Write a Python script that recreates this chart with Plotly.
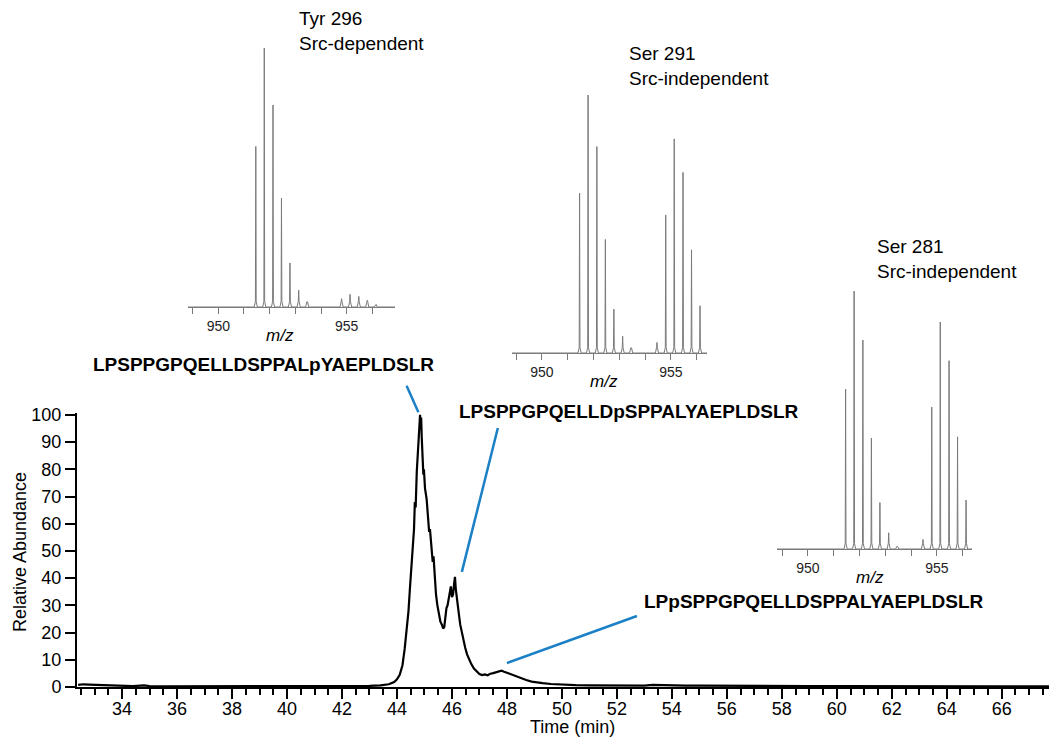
import plotly.graph_objects as go

# ---------------- data ----------------
time_min = [32.4, 32.6, 32.8, 33.0, 33.2, 33.4, 33.6, 33.8, 34.0, 34.4, 34.8, 35.0, 35.5, 36.0, 37.0,
            38.0, 39.0, 40.0, 40.8, 41.0, 42.0, 42.5, 43.0, 43.4, 43.7, 43.9, 44.0, 44.1, 44.2, 44.28,
            44.35, 44.42, 44.47, 44.53, 44.58, 44.62, 44.65, 44.68, 44.72, 44.76, 44.79, 44.82, 44.84,
            44.86, 44.88, 44.9, 44.92, 44.94, 44.96, 44.98, 45.02, 45.08, 45.12, 45.17, 45.2, 45.25,
            45.3, 45.33, 45.37, 45.42, 45.47, 45.52, 45.58, 45.63, 45.68, 45.72, 45.76, 45.8, 45.84,
            45.88, 45.92, 45.96, 46.0, 46.04, 46.08, 46.11, 46.14, 46.17, 46.2, 46.25, 46.3, 46.36,
            46.42, 46.48, 46.55, 46.62, 46.7, 46.8, 46.9, 47.0, 47.1, 47.2, 47.3, 47.4, 47.5, 47.6,
            47.7, 47.8, 47.9, 48.0, 48.1, 48.2, 48.35, 48.5, 48.7, 48.9, 49.1, 49.3, 49.6, 50.0, 50.5,
            51.0, 52.0, 52.5, 53.0, 53.3, 53.6, 54.0, 54.5, 55.0, 56.0, 57.0, 58.0, 59.0, 60.0, 62.0,
            64.0, 66.0, 67.8]
abundance = [0.8, 1.0, 0.9, 0.8, 0.7, 0.6, 0.5, 0.4, 0.3, 0.3, 0.6, 0.3, 0.2, 0.2, 0.2,
             0.2, 0.2, 0.2, 0.4, 0.2, 0.3, 0.3, 0.4, 0.6, 1.0, 1.8, 2.8, 4.5, 8, 14,
             20, 28, 36, 44, 51, 58, 68, 66, 79, 88, 94, 97, 100,
             96, 99, 92, 86, 88, 78, 80, 73, 69, 64, 57, 58, 50,
             46, 48, 40, 34, 30, 27, 24, 23, 21.5, 22, 26, 29, 30,
             33, 35, 37, 33, 34, 38, 40.5, 36, 33, 32, 27, 23, 20,
             17, 14.5, 12, 10, 8.5, 6.8, 5.6, 4.8, 4.4, 4.6, 4.3, 4.9, 5.1, 5.4,
             5.7, 6.0, 5.6, 5.2, 4.8, 4.5, 3.9, 3.2, 2.6, 2.0, 1.6, 1.4, 1.1, 0.8, 0.7,
             0.6, 0.5, 0.4, 0.5, 0.8, 0.7, 0.6, 0.5, 0.5, 0.4, 0.4, 0.4, 0.3, 0.3, 0.2,
             0.2, 0.2, 0.2]

y_ticks = [0, 10, 20, 30, 40, 50, 60, 70, 80, 90, 100]

# isotope clusters (m/z) and relative intensities for the three MS insets
mz_a = [951.46, 951.79, 952.13, 952.46, 952.79, 953.13, 953.46]
mz_b = [954.46, 954.80, 955.13, 955.47, 955.80, 956.13]

tyr296_mz = mz_a + mz_b[1:]
tyr296_int = [62, 100, 78, 42, 17, 6.5, 2, 3.2, 4.9, 4.1, 2.6, 1.0]

ser291_mz = mz_a + mz_b
ser291_int = [62, 100, 80, 44, 17, 6.5, 2, 4.1, 53.5, 83, 70, 40, 18.3]

ser281_mz = mz_a + mz_b
ser281_int = [62, 100, 81, 43, 18, 6.3, 1, 3.7, 55, 88, 73, 43.5, 19]

mz_ticks = [950, 955]

peptides = ["LPSPPGPQELLDSPPALpYAEPLDSLR",
            "LPSPPGPQELLDpSPPALYAEPLDSLR",
            "LPpSPPGPQELLDSPPALYAEPLDSLR"]
inset_titles = ["Tyr 296<br>Src-dependent",
                "Ser 291<br>Src-independent",
                "Ser 281<br>Src-independent"]

# ---------------- figure ----------------
W, H = 1049, 738
FONT = "Liberation Sans, Arial, Helvetica, sans-serif"
BLUE = "#1b80c6"
GREY = "#7a7a7a"

X_RANGE = [32.36, 67.72]
Y_RANGE = [0, 100.7]
PLOT_L, PLOT_R, PLOT_B, PLOT_T = 77, 1049, 687, 413


def px_x(p):
    return p / W


def px_y(p):
    return (H - p) / H


def main_to_paper(t, v):
    """Map main-axis data coordinates to paper coordinates (same linear scale as the axes)."""
    xp = PLOT_L + (t - X_RANGE[0]) / (X_RANGE[1] - X_RANGE[0]) * (PLOT_R - PLOT_L)
    yp = PLOT_B - (v - Y_RANGE[0]) / (Y_RANGE[1] - Y_RANGE[0]) * (PLOT_B - PLOT_T)
    return px_x(xp), px_y(yp)


fig = go.Figure()

fig.add_trace(go.Scatter(x=time_min, y=abundance, mode="lines",
                         line=dict(color="black", width=2.2),
                         xaxis="x", yaxis="y", showlegend=False, hoverinfo="skip"))


def spectrum_path(mz, inten, lo, hi):
    xs, ys = [lo], [0]
    for m, h in zip(mz, inten):
        b = min(h, 2.2)
        xs += [m - 0.06, m - 0.015, m, m + 0.015, m + 0.06]
        ys += [0, b, h, b, 0]
    xs.append(hi)
    ys.append(0)
    return xs, ys


insets = [
    dict(mz=tyr296_mz, it=tyr296_int, rng=[948.82, 956.88], x0=188, x1=395, base=307, top=48,
         title_px=(297, 31)),
    dict(mz=ser291_mz, it=ser291_int, rng=[948.84, 956.40], x0=512, x1=707, base=353, top=95,
         title_px=(627, 66)),
    dict(mz=ser281_mz, it=ser281_int, rng=[948.80, 956.36], x0=777, x1=972, base=549, top=291,
         title_px=(875, 258.5)),
]

layout = dict(
    width=W, height=H,
    margin=dict(l=0, r=0, t=0, b=0),
    paper_bgcolor="white", plot_bgcolor="rgba(0,0,0,0)",
    font=dict(family=FONT, color="black"),
    showlegend=False,
    xaxis=dict(domain=[px_x(PLOT_L), px_x(PLOT_R)], range=X_RANGE, anchor="y",
               showline=True, linecolor="black", linewidth=2,
               ticks="outside", ticklen=10, tickwidth=2, tickcolor="black",
               tick0=0, dtick=2, tickfont=dict(size=18, family=FONT), ticklabelstandoff=-6,
               minor=dict(dtick=0.5, tick0=0, ticks="outside", ticklen=6, tickwidth=2,
                          tickcolor="black", showgrid=False),
               showgrid=False, zeroline=False, automargin=False),
    yaxis=dict(domain=[px_y(PLOT_B), px_y(PLOT_T)], range=Y_RANGE, anchor="x",
               showline=True, linecolor="black", linewidth=2,
               ticks="outside", ticklen=10, tickwidth=2, tickcolor="black",
               tickvals=y_ticks, tickfont=dict(size=18, family=FONT),
               showgrid=False, zeroline=False, automargin=False),
)

annotations = []
shapes = []
for i, ins in enumerate(insets, start=2):
    xs, ys = spectrum_path(ins["mz"], ins["it"], ins["rng"][0], ins["rng"][1])
    fig.add_trace(go.Scatter(x=xs, y=ys, mode="lines", line=dict(color=GREY, width=1),
                             xaxis=f"x{i}", yaxis=f"y{i}", showlegend=False, hoverinfo="skip"))
    layout[f"xaxis{i}"] = dict(domain=[px_x(ins["x0"]), px_x(ins["x1"])], range=ins["rng"],
                               anchor=f"y{i}", showline=True, linecolor=GREY, linewidth=1,
                               ticks="outside", ticklen=6, tickwidth=1, tickcolor=GREY,
                               tickvals=mz_ticks, tickfont=dict(size=14, family=FONT, color="#222"),
                               minor=dict(dtick=1, tick0=0, ticks="outside", ticklen=6,
                                          tickwidth=1, tickcolor=GREY, showgrid=False),
                               showgrid=False, zeroline=False, automargin=False)
    layout[f"yaxis{i}"] = dict(domain=[px_y(ins["base"]), px_y(ins["top"])], range=[0, 100],
                               anchor=f"x{i}", visible=False, automargin=False)
    # m/z label: centred near m/z 952.4, below the inset axis
    lo, hi = ins["rng"]
    mz_px = ins["x0"] + (952.4 - lo) / (hi - lo) * (ins["x1"] - ins["x0"])
    annotations.append(dict(text="<i>m/z</i>", x=px_x(mz_px), y=px_y(ins["base"] + 28),
                            xref="paper", yref="paper", showarrow=False,
                            xanchor="center", yanchor="middle",
                            font=dict(size=17, family=FONT, color="black")))
    tx, ty = ins["title_px"]
    annotations.append(dict(text=inset_titles[i - 2], x=px_x(tx), y=px_y(ty),
                            xref="paper", yref="paper", showarrow=False, align="left",
                            xanchor="left", yanchor="middle",
                            font=dict(size=19, family=FONT, color="black")))

# peptide labels on the chromatogram (centre positions in main-axis data units)
label_pos = [(39.15, 118.4), (52.45, 101.1), (59.18, 31.25)]
for txt, (lx, ly) in zip(peptides, label_pos):
    px, py = main_to_paper(lx, ly)
    annotations.append(dict(text=f"<b>{txt}</b>", x=px, y=py, xref="paper", yref="paper",
                            showarrow=False, xanchor="center", yanchor="middle",
                            font=dict(size=19, family=FONT, color="black")))

# leader lines (tail -> head, in main-axis data units)
leaders = [((44.35, 110.7), (44.78, 101.0)),
           ((47.67, 95.2), (46.36, 42.3)),
           ((52.73, 26.1), (48.00, 8.8))]
for (tx, ty), (hx, hy) in leaders:
    ptx, pty = main_to_paper(tx, ty)
    phx, phy = main_to_paper(hx, hy)
    shapes.append(dict(type="line", xref="paper", yref="paper", x0=ptx, y0=pty, x1=phx, y1=phy,
                       line=dict(color=BLUE, width=2.5)))

# axis titles
annotations.append(dict(text="Time (min)", x=px_x(572), y=px_y(727), xref="paper", yref="paper",
                        xanchor="center", yanchor="middle", showarrow=False, borderpad=0,
                        font=dict(size=18, family=FONT, color="black")))
annotations.append(dict(text="Relative Abundance", x=px_x(20), y=px_y(552), xref="paper", yref="paper",
                        showarrow=False, textangle=-90, xanchor="center", yanchor="middle",
                        font=dict(size=18, family=FONT, color="black")))

layout["annotations"] = annotations
layout["shapes"] = shapes
fig.update_layout(**layout)
fig.write_html("out.html", config={"displayModeBar": False},
               post_script="document.body.style.margin='0';")
